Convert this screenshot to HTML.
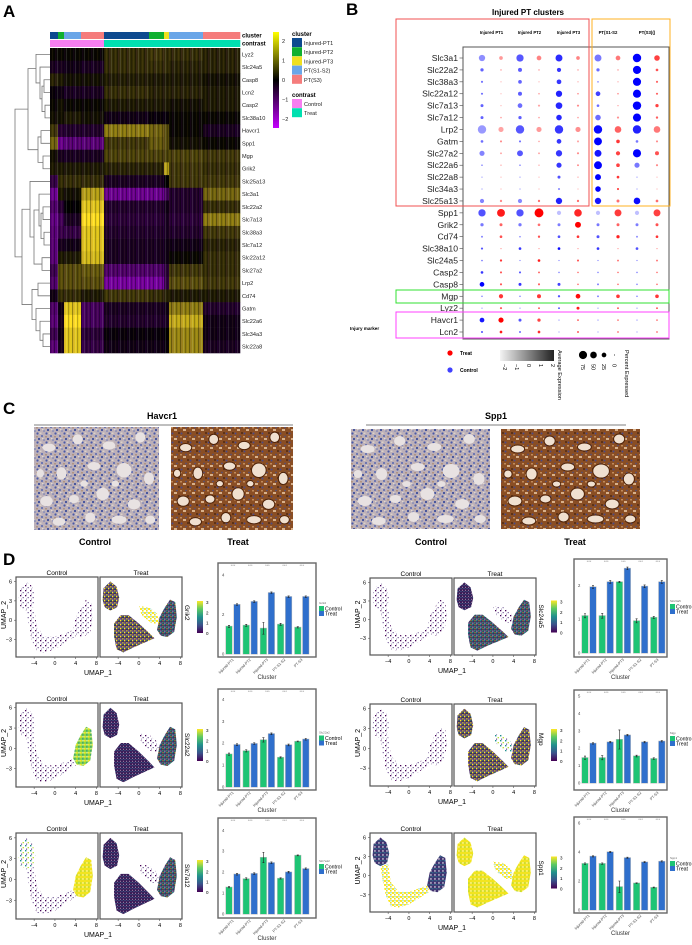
<!DOCTYPE html>
<html><head><meta charset="utf-8">
<style>
html,body{margin:0;padding:0;background:#fff;}
svg{display:block;font-family:"Liberation Sans",sans-serif;}
</style></head>
<body>
<svg id="fig" width="692" height="945" viewBox="0 0 692 945" xmlns="http://www.w3.org/2000/svg">
<defs>
  <linearGradient id="hmbar" x1="0" y1="0" x2="0" y2="1">
    <stop offset="0" stop-color="#ffff00"/><stop offset="0.5" stop-color="#000000"/><stop offset="1" stop-color="#c400ff"/>
  </linearGradient>
  <linearGradient id="vir" x1="0" y1="1" x2="0" y2="0">
    <stop offset="0" stop-color="#440154"/><stop offset="0.25" stop-color="#3b528b"/><stop offset="0.5" stop-color="#21908d"/><stop offset="0.75" stop-color="#5dc963"/><stop offset="1" stop-color="#fde725"/>
  </linearGradient>
  <linearGradient id="greyg" x1="0" y1="0" x2="1" y2="0">
    <stop offset="0" stop-color="#f4f4f4"/><stop offset="1" stop-color="#222"/>
  </linearGradient>
  <pattern id="stripes" width="9" height="10" patternUnits="userSpaceOnUse">
    <rect x="0" y="0" width="1" height="10" fill="#000" opacity="0.35"/>
    <rect x="1.5" y="0" width="0.7" height="10" fill="#7000b0" opacity="0.18"/>
    <rect x="3" y="0" width="1" height="10" fill="#fff" opacity="0.12"/>
    <rect x="5" y="0" width="1.2" height="10" fill="#000" opacity="0.25"/>
    <rect x="7" y="0" width="0.6" height="10" fill="#ffe040" opacity="0.1"/>
  </pattern>
  <pattern id="pSparse" width="5" height="5" patternUnits="userSpaceOnUse">
    <rect x="0" y="0" width="1.3" height="1.3" fill="#440154"/>
    <rect x="2.6" y="2" width="1.2" height="1.2" fill="#5a3d85" opacity="0.85"/>
    <rect x="1" y="3.6" width="1" height="1" fill="#9a8ab5"/>
  </pattern>
  <pattern id="pDensePurple" width="3" height="3" patternUnits="userSpaceOnUse">
    <rect width="3" height="3" fill="#3a1c58"/>
    <rect x="1.5" y="0" width="1" height="1" fill="#31688e"/>
    <rect x="0" y="1.8" width="1" height="1" fill="#fff" opacity="0.5"/>
  </pattern>
  <pattern id="pMixYellow" width="4" height="4" patternUnits="userSpaceOnUse">
    <rect width="4" height="4" fill="#3a1c58"/>
    <rect x="0" y="0" width="1.4" height="1.4" fill="#fde725"/>
    <rect x="2.2" y="2.2" width="1.4" height="1.4" fill="#e8e13a"/>
    <rect x="2.4" y="0.2" width="1" height="1" fill="#35b779"/>
    <rect x="0.4" y="2.6" width="1" height="1" fill="#fff"/>
  </pattern>
  <pattern id="pMixGreen" width="4" height="4" patternUnits="userSpaceOnUse">
    <rect width="4" height="4" fill="#36205a"/>
    <rect x="0" y="0" width="1.4" height="1.4" fill="#21908d"/>
    <rect x="2.2" y="2.2" width="1.3" height="1.3" fill="#35b779"/>
    <rect x="2.5" y="0.3" width="1" height="1" fill="#fde725"/>
    <rect x="0.4" y="2.6" width="1" height="1" fill="#fff"/>
  </pattern>
  <pattern id="pGreenYellow" width="4" height="4" patternUnits="userSpaceOnUse">
    <rect width="4" height="4" fill="#8fd744"/>
    <rect x="0" y="0" width="1.6" height="1.6" fill="#fde725"/>
    <rect x="2.2" y="2.2" width="1.3" height="1.3" fill="#21908d"/>
    <rect x="2.5" y="0.2" width="1" height="1" fill="#fff"/>
  </pattern>
  <pattern id="pYellow" width="4" height="4" patternUnits="userSpaceOnUse">
    <rect width="4" height="4" fill="#f2e41f"/>
    <rect x="2.4" y="2.4" width="1.1" height="1.1" fill="#fff"/>
    <rect x="0.4" y="2.6" width="0.9" height="0.9" fill="#5dc963"/>
  </pattern>
  <pattern id="pYellowSparse" width="4" height="4" patternUnits="userSpaceOnUse">
    <rect x="0" y="0" width="2" height="2" fill="#fde725"/>
    <rect x="2" y="2" width="1.6" height="1.6" fill="#f0e020"/>
    <rect x="2.5" y="0.3" width="1" height="1" fill="#35b779"/>
  </pattern>
  <pattern id="pBluePurple" width="4" height="4" patternUnits="userSpaceOnUse">
    <rect width="4" height="4" fill="#40306e"/>
    <rect x="0" y="0" width="1.4" height="1.4" fill="#31688e"/>
    <rect x="2.3" y="2.3" width="1.3" height="1.3" fill="#fff"/>
    <rect x="2.5" y="0.3" width="1" height="1" fill="#21908d"/>
  </pattern>
  <pattern id="pSparseMix" width="5" height="5" patternUnits="userSpaceOnUse">
    <rect x="0" y="0" width="1.4" height="1.4" fill="#21908d"/>
    <rect x="2.6" y="2" width="1.3" height="1.3" fill="#b5de2b"/>
    <rect x="1" y="3.6" width="1.1" height="1.1" fill="#5a3d85"/>
  </pattern>
  <pattern id="histoCtrl" width="9" height="9" patternUnits="userSpaceOnUse">
    <rect width="9" height="9" fill="#bcb0b8"/>
    <circle cx="1.5" cy="1.5" r="1.1" fill="#4a5aa8"/>
    <circle cx="6" cy="4" r="1" fill="#5565b0"/>
    <circle cx="3" cy="7" r="1.1" fill="#3d4d9a"/>
    <circle cx="8" cy="8" r="0.8" fill="#6a78b8"/>
    <rect x="3.5" y="0.5" width="2" height="1.5" fill="#ddd2c8"/>
    <rect x="0" y="4" width="2" height="1.5" fill="#b09482"/>
    <rect x="6" y="6" width="1.5" height="1.2" fill="#e0d8d0"/>
  </pattern>
  <pattern id="histoTreat" width="9" height="9" patternUnits="userSpaceOnUse">
    <rect width="9" height="9" fill="#8a4e24"/>
    <circle cx="1.5" cy="1.5" r="1" fill="#4a4a88"/>
    <circle cx="6" cy="4.5" r="0.9" fill="#55507a"/>
    <rect x="3" y="6" width="3" height="2" fill="#d8b08a"/>
    <rect x="7" y="0" width="2" height="2" fill="#5e3216"/>
    <rect x="0" y="4" width="2" height="1.5" fill="#c08a5a"/>
  </pattern>
</defs>

<text x="3" y="17" font-size="17" font-weight="bold">A</text>
<text x="346" y="15" font-size="17" font-weight="bold">B</text>
<text x="3" y="414" font-size="17" font-weight="bold">C</text>
<text x="3" y="565" font-size="17" font-weight="bold">D</text>

<g id="gA"></g>
<g id="gB"></g>
<g id="gC"></g>
<g id="gD"></g>
</svg>

<script>
// ================= DATA =================
const hmGenes = ["Lyz2","Slc24a5","Casp8","Lcn2","Casp2","Slc38a10","Havcr1","Spp1","Mgp","Grik2","Slc25a13","Slc3a1","Slc22a2","Slc7a13","Slc38a3","Slc7a12","Slc22a12","Slc27a2","Lrp2","Cd74","Gatm","Slc22a6","Slc34a3","Slc22a8"];
const hmBlockCluster = ["Injured-PT1","Injured-PT2","PT(S1-S2)","PT(S3)","Injured-PT1","Injured-PT2","Injured-PT3","PT(S1-S2)","PT(S3)"];
const hmBlockContrast = ["Control","Control","Control","Control","Treat","Treat","Treat","Treat","Treat"];
const hmBlockCells = [8,6,17,23,45,15,5,34,37];
const hmValues = [
 [0.1,0.1,0.1,0.1,0.5,0.6,0.5,0.5,0.4],
 [-0.3,-0.3,-0.2,-0.3,0.5,0.5,0.5,0.4,0.4],
 [0.4,0.3,0.2,0.2,0.35,0.3,0.3,0.3,0.2],
 [-0.1,-0.2,-0.3,-0.3,0.5,0.4,0.4,0.4,0.3],
 [0.1,0.2,0.1,0.1,0.3,0.3,0.3,0.2,0.3],
 [0.2,0.2,0.3,0.2,-0.2,-0.1,-0.1,0.1,0.1],
 [0.6,-0.5,-0.4,-0.4,1.2,1.0,0.8,0.1,-0.3],
 [1.0,-1.2,-1.0,-1.0,0.6,0.9,0.8,0.2,0.1],
 [0.2,-0.3,-0.3,-0.3,0.7,0.7,0.7,0.7,0.6],
 [0.3,0.3,0.3,0.3,0.4,0.4,1.5,0.6,0.5],
 [-0.6,0.5,0.5,0.5,-0.3,-0.3,0,0.6,0.6],
 [-1.2,0.3,0.2,1.5,-1.2,-1.2,-0.8,-0.4,1.0],
 [-0.9,-0.5,0,1.8,-0.4,-0.4,-0.2,-0.4,0.5],
 [-1.1,-0.8,-0.3,2.0,-0.5,-0.5,-0.3,-0.5,1.2],
 [-1.0,-0.7,-0.6,1.8,-0.4,-0.4,-0.3,-0.4,0.6],
 [-1.0,-0.3,-0.2,1.8,-0.3,-0.3,-0.2,-0.2,0.4],
 [-1.0,0.3,0.3,1.7,-0.3,-0.3,-0.2,0.1,0.5],
 [-0.7,0.8,0.8,0.9,-0.9,-0.9,-0.5,0.6,0.5],
 [-0.9,0.8,0.8,0.8,-1.3,-1.3,-0.6,0.8,0.6],
 [-0.2,0.5,0.5,0.3,0.6,0.5,0.4,0.3,0.3],
 [-0.9,-0.2,1.8,-0.8,-0.3,-0.3,-0.2,1.2,-0.4],
 [-1.0,-0.3,2.0,-0.8,-0.4,-0.4,-0.3,1.6,-0.2],
 [-0.7,-0.2,1.8,-0.5,-0.1,-0.1,0,1.3,-0.2],
 [-1.0,-0.3,1.8,-0.6,-0.2,-0.2,-0.1,1.3,-0.3]
];
const clusterNames = ["Injured-PT1","Injured-PT2","Injured-PT3","PT(S1-S2)","PT(S3)"];
const clusterColors = ["#0d4a8f","#10b030","#f0e020","#6aa6e8","#f57c7c"];
const contrastNames = ["Control","Treat"];
const contrastColors = ["#f77ef0","#00e0b0"];
const hmTicks = [2,1,0,-1,-2];

const dpGenes = ["Slc3a1","Slc22a2","Slc38a3","Slc22a12","Slc7a13","Slc7a12","Lrp2","Gatm","Slc27a2","Slc22a6","Slc22a8","Slc34a3","Slc25a13","Spp1","Grik2","Cd74","Slc38a10","Slc24a5","Casp2","Casp8","Mgp","Lyz2","Havcr1","Lcn2"];
const dpGroups = ["Injured PT1","Injured PT2","Injured PT3","PT(S1-S2","PT(S3)()"];
const dpConds = ["Control","Treat"];
const dpPct = [
 [45,15,60,25,55,15,55,25,80,35],
 [12,3,18,3,20,3,12,3,75,8],
 [5,2,15,2,25,2,3,2,75,5],
 [5,2,18,3,45,3,25,3,75,5],
 [10,2,25,5,50,5,8,2,80,12],
 [10,3,12,3,35,3,35,5,75,6],
 [80,30,80,30,80,30,80,50,80,50],
 [8,5,5,3,25,5,70,15,8,5],
 [30,4,40,4,45,5,55,20,75,18],
 [3,2,3,2,30,4,70,15,30,5],
 [2,2,2,2,10,2,40,8,2,2],
 [2,2,2,2,5,2,35,5,2,2],
 [20,6,20,6,45,6,45,10,50,8],
 [60,70,60,90,20,65,20,55,20,55],
 [12,10,12,8,10,40,10,10,10,10],
 [4,8,3,6,8,8,10,12,4,8],
 [5,2,8,2,8,2,8,2,8,2],
 [3,6,2,8,2,5,2,4,2,4],
 [8,5,5,4,3,3,3,3,3,3],
 [25,5,10,5,10,3,4,3,3,3],
 [3,20,3,18,6,25,4,15,3,15],
 [2,5,2,4,4,10,2,4,2,4],
 [25,30,10,12,2,4,2,3,2,3],
 [5,8,4,8,2,4,2,3,2,3]
];
const dpExpr = [
 [-0.6,-0.8,0.4,-0.4,1.2,-0.4,-0.2,-0.2,2,0.8],
 [0.2,-1,0.3,-1,1,-1,0,-1,2,0.5],
 [0,-1.5,0.2,-1.5,1,-1.2,-0.5,-1.2,2,0.3],
 [0,-1.5,0.3,-1,1.4,-0.6,0.8,-0.6,2,0.3],
 [0.2,-1.5,0,-1,1.3,-0.5,0,-1,2,0.8],
 [0.2,-1,0.3,-1,1.3,-1,0,-0.6,2,0.3],
 [-0.8,-1,0.4,-0.8,1,-0.6,1.8,0.2,1.4,-0.2],
 [0,-0.5,0,-1,1,-1,2,1,-0.2,-0.5],
 [-0.4,-1,0.4,-1,1,-0.5,1.6,0.8,2,0.5],
 [-0.5,-1,-0.5,-1,1,-0.5,2,0.8,-0.2,-0.5],
 [-1,-1.5,-1,-1.5,0.5,-1,2,1,-1,-1.5],
 [-1,-1.5,-1,-1.5,-0.5,-1.5,2,1,-1,-1.5],
 [-0.4,-0.5,-0.5,0,1.4,0,1.6,0,1.8,0],
 [0.5,1.5,0.5,2,-1.5,1.3,-1.5,0.9,-1.5,0.8],
 [-0.2,0.2,-0.2,0,-0.3,2,-0.2,0.2,-0.3,0.5],
 [-0.3,0.5,-0.5,0.5,0.5,1,0.5,1.4,-0.5,1],
 [0.5,-1,1,-1,1.8,-1,1,-1,0.5,-1],
 [0,1,-0.5,1.5,-0.5,0.5,-0.5,0,-0.5,0],
 [1,0.5,0.5,0.3,-0.5,0,-0.5,0,-0.5,0],
 [2,0.5,1,0.3,0.8,0,-0.2,0,-0.5,0],
 [-0.5,1,-0.5,1,0.5,1.8,-0.3,1,-0.5,1],
 [-1,0.5,-1,0.5,0.5,1.5,-1,0.5,-1,0.5],
 [1.6,2,0.5,0.8,-1,0,-1,0,-1,0],
 [0.5,1.5,0.2,1.2,-1,0.5,-1,0.3,-1,0.3]
];
const dpExprTicks = [-2,-1,0,1,2];
const dpPctTicks = [75,50,25,0];

const barClusters = ["Injured-PT1","Injured-PT2","Injured-PT3","PT-S1-S2","PT-S3"];
const grik2Ctrl = [1.4,1.45,1.3,1.5,1.35];
const grik2Treat = [2.5,2.65,3.1,2.9,2.9];
const grik2Err = [0.05,0.05,0.3,0.05,0.03];
const slc24a5Ctrl = [1.1,1.1,2.1,0.95,1.05];
const slc24a5Treat = [1.95,2.1,2.5,1.97,2.1];
const slc24a5Err = [0.06,0.07,0.02,0.06,0.03];
const slc22a2Ctrl = [1.5,1.65,2.15,1.35,2.08];
const slc22a2Treat = [1.93,1.98,2.43,1.92,2.18];
const slc22a2Err = [0.05,0.05,0.1,0.03,0.02];
const mgpCtrl = [1.45,1.45,2.5,1.55,1.4];
const mgpTreat = [2.28,2.35,2.75,2.35,2.4];
const mgpErr = [0.1,0.12,0.55,0.05,0.05];
const slc7a12Ctrl = [1.28,1.68,2.7,1.7,2.8];
const slc7a12Treat = [1.9,1.93,2.45,2.0,2.16];
const slc7a12Err = [0.03,0.05,0.25,0.03,0.02];
const spp1Ctrl = [3.2,3.2,1.6,1.85,1.55];
const spp1Treat = [3.7,4.0,3.6,3.3,3.35];
const spp1Err = [0.05,0.05,0.4,0.03,0.03];
const grik2Ticks = [0,2,4];
const slc24a5Ticks = [0,1,2];
const slc22a2Ticks = [0,1,2,3,4];
const mgpTicks = [0,1,2,3,4,5];
const slc7a12Ticks = [0,1,2,3,4];
const spp1Ticks = [0,2,4,6];
const umapXTicks = [-4,0,4,8];
const umapYTicks = [6,3,0,-3];
const cbTicks = [0,1,2,3];

// ================= HELPERS =================
const NS = "http://www.w3.org/2000/svg";
function mk(tag, a, p){const e=document.createElementNS(NS,tag);for(const k in a)e.setAttribute(k,a[k]);p.appendChild(e);return e;}
function tx(p,x,y,s,size,extra){const e=mk('text',Object.assign({x:x,y:y,'font-size':size},extra||{}),p);e.textContent=s;return e;}
const gA=document.getElementById('gA'),gB=document.getElementById('gB'),gC=document.getElementById('gC'),gD=document.getElementById('gD');

function hmColor(v){
  const t=Math.max(-1,Math.min(1,v/2));
  if(t>=0){const u=Math.pow(t,1.15);const c=Math.round(255*u);return `rgb(${c},${Math.round(c*0.88)},${Math.round(c*0.12)})`;}
  const u=Math.pow(-t,1.1);return `rgb(${Math.round(190*u)},0,${Math.round(255*u)})`;
}

// ================= PANEL A =================
(function(){
  const x0=50,x1=240,y0=48,y1=353;
  const totalCells=hmBlockCells.reduce((a,b)=>a+b,0);
  const xs=c=>x0+(x1-x0)*c/totalCells;
  const rowH=(y1-y0)/hmGenes.length;
  const ys=i=>y0+i*rowH;
  let cum=0;
  hmBlockCells.forEach((n,b)=>{
    const xa=xs(cum),xb=xs(cum+n);
    const cb=mk('rect',{x:xa,y:32,width:xb-xa+0.3,height:7,fill:clusterColors[clusterNames.indexOf(hmBlockCluster[b])]},gA);
    
    
    const ct=mk('rect',{x:xa,y:40,width:xb-xa+0.3,height:7,fill:contrastColors[contrastNames.indexOf(hmBlockContrast[b])]},gA);
    
    
    hmGenes.forEach((g,i)=>{
      const r=mk('rect',{x:xa,y:ys(i),width:xb-xa+0.3,height:rowH+0.3,fill:hmColor(hmValues[i][b])},gA);
      
      
    });
    cum+=n;
  });
  const st=mk('rect',{x:x0,y:y0,width:x1-x0,height:y1-y0,fill:'url(#stripes)'},gA);
  
  
  hmGenes.forEach((g,i)=>{
    const t=tx(gA,242,ys(i)+rowH/2+2,g,5.6,{fill:'#222'});
    
    
  });
  tx(gA,242,37.5,'cluster',6,{'font-weight':'bold'});
  tx(gA,242,45.5,'contrast',6,{'font-weight':'bold'});
  const tree=[35,[22,[14,0,[10,1,[8,[6,2,3],[5,4,5]]]],[12,[9,6,7],[7,8,9]]],
    [28,[20,10,[16,[11,11,[9,[7,12,13],[6,14,15]]],[8,16,17]]],[18,[12,18,19],[14,20,[10,21,[7,22,23]]]]]];
  function draw(n){
    if(typeof n==='number') return {y:ys(n)+rowH/2,x:x0};
    const a=draw(n[1]),b=draw(n[2]);const xh=x0-n[0];
    const p=mk('path',{d:`M${a.x},${a.y}H${xh}V${b.y}H${b.x}`,fill:'none',stroke:'#777','stroke-width':0.8},gA);
    
    
    return {y:(a.y+b.y)/2,x:xh};
  }
  draw(tree);
  const cb=mk('rect',{x:273,y:32,width:6,height:96,fill:'url(#hmbar)'},gA);
  
  
  hmTicks.forEach(v=>{
    const t=tx(gA,282,80-v*19.5+2,String(v).replace('-','\u2212'),5.5,{fill:'#222'});
    
    
  });
  tx(gA,292,36,'cluster',6,{'font-weight':'bold'});
  clusterNames.forEach((n,i)=>{
    const r=mk('rect',{x:292,y:38+i*9.2,width:10,height:9,fill:clusterColors[i]},gA);
    
    
    tx(gA,304,45+i*9.2,n,5.6,{fill:'#222'});
  });
  tx(gA,292,97,'contrast',6,{'font-weight':'bold'});
  contrastNames.forEach((n,i)=>{
    const r=mk('rect',{x:292,y:99+i*9.2,width:10,height:9,fill:contrastColors[i]},gA);
    
    
    tx(gA,304,106+i*9.2,n,5.6,{fill:'#222'});
  });
})();

// ================= PANEL B =================
(function(){
  const colX=[482,501,520,539,559,578,598,618,637,657];
  const y0=58,dy=(332-58)/23;
  const yRow=i=>y0+i*dy;
  const rad=p=>4.2*Math.sqrt(p/80);
  function dotColor(e,cond){
    const t=Math.max(0,Math.min(1,(e+2)/4));
    const lo=218-Math.round(218*t);
    return cond===0?`rgb(${lo},${lo},255)`:`rgb(255,${lo},${lo})`;
  }
  tx(gB,528,15,'Injured PT clusters',8,{'font-weight':'bold','text-anchor':'middle'});
  dpGroups.forEach((g,i)=>{
    const t=tx(gB,(colX[2*i]+colX[2*i+1])/2,34,g,4.3,{'font-weight':'bold','text-anchor':'middle'});
    
    
  });
  dpGenes.forEach((g,i)=>{
    const t=tx(gB,458,yRow(i)+3,g,8.6,{'text-anchor':'end',fill:'#222'});
    
    
    mk('line',{x1:459.5,x2:462.5,y1:yRow(i),y2:yRow(i),stroke:'#444','stroke-width':0.6},gB);
    colX.forEach((x,j)=>{
      const c=mk('circle',{cx:x,cy:yRow(i),r:rad(dpPct[i][j]),fill:dotColor(dpExpr[i][j],j%2)},gB);
      
      
    });
  });
  const boxes=[[463,47,669,339,'#555','black-box'],[396,19,589,206,'#f05050','red-box'],[592,19,670,206,'#ffb020','orange-box'],[396,290,669,303,'#30e030','green-box-mgp'],[396,312,669,338,'#ff40ff','magenta-box-injury']];
  boxes.forEach(b=>{
    const r=mk('rect',{x:b[0],y:b[1],width:b[2]-b[0],height:b[3]-b[1],fill:'none',stroke:b[4],'stroke-width':1},gB);
    
    
  });
  tx(gB,350,330,'Injury marker',4.6,{'font-weight':'bold'});
  const lt=mk('circle',{cx:450,cy:353,r:2.6,fill:'#ff0000'},gB);
  
  
  tx(gB,460,355,'Treat',5,{'font-weight':'bold'});
  const lc=mk('circle',{cx:450,cy:370,r:2.6,fill:'#4040ff'},gB);
  
  
  tx(gB,460,372,'Control',5,{'font-weight':'bold'});
  const gr=mk('rect',{x:500,y:350,width:54,height:11,fill:'url(#greyg)'},gB);
  
  
  dpExprTicks.forEach((v,i)=>{
    const x=503+i*12;
    const t=tx(gB,0,0,String(v).replace('-','\u2212'),5.5,{transform:`translate(${x},364) rotate(90)`});
    
    
  });
  tx(gB,0,0,'Average Expression',5.6,{transform:'translate(558,350) rotate(90)'});
  dpPctTicks.forEach((v,i)=>{
    const x=583+i*10.5;
    const c=mk('circle',{cx:x,cy:355,r:Math.max(0.5,rad(v)),fill:'#000'},gB);
    
    
    tx(gB,0,0,String(v),5.5,{transform:`translate(${x-2},364) rotate(90)`});
  });
  tx(gB,0,0,'Percent Expressed',5.6,{transform:'translate(625,350) rotate(90)'});
})();

// ================= PANEL C =================
(function(){
  const lum=[[0.12,0.2,0.05,0.04],[0.35,0.12,0.04,0.05],[0.6,0.18,0.05,0.04],[0.85,0.1,0.04,0.05],
    [0.22,0.45,0.04,0.06],[0.48,0.38,0.05,0.04],[0.72,0.42,0.06,0.07],[0.92,0.5,0.04,0.06],
    [0.1,0.72,0.05,0.05],[0.32,0.7,0.04,0.04],[0.55,0.65,0.05,0.06],[0.8,0.75,0.05,0.05],
    [0.2,0.92,0.05,0.04],[0.45,0.88,0.04,0.05],[0.68,0.9,0.06,0.04],[0.93,0.9,0.04,0.04],
    [0.4,0.55,0.03,0.03],[0.65,0.55,0.03,0.03],[0.05,0.45,0.03,0.04]];
  function histo(x,y,w,h,treat,name){
    const r=mk('rect',{x:x,y:y,width:w,height:h,fill:treat?'url(#histoTreat)':'url(#histoCtrl)'},gC);
    
    
    lum.forEach(l=>{
      mk('ellipse',{cx:x+l[0]*w,cy:y+l[1]*h,rx:l[2]*w,ry:l[3]*h,fill:treat?'#f0e0d0':'#e8e2e2',stroke:treat?'#4e2208':'none','stroke-width':1},gC);
    });
  }
  tx(gC,162,419,'Havcr1',9,{'font-weight':'bold','text-anchor':'middle'});
  mk('line',{x1:34,x2:293,y1:425,y2:425,stroke:'#555','stroke-width':0.8},gC);
  histo(34,427,125,103,false,'havcr1-control-image');
  histo(171,427,122,103,true,'havcr1-treat-image');
  tx(gC,95,545,'Control',9,{'font-weight':'bold','text-anchor':'middle'});
  tx(gC,238,545,'Treat',9,{'font-weight':'bold','text-anchor':'middle'});
  tx(gC,496,419,'Spp1',9,{'font-weight':'bold','text-anchor':'middle'});
  mk('line',{x1:366,x2:626,y1:425,y2:425,stroke:'#555','stroke-width':0.8},gC);
  histo(351,429,139,100,false,'spp1-control-image');
  histo(501,429,139,100,true,'spp1-treat-image');
  tx(gC,431,545,'Control',9,{'font-weight':'bold','text-anchor':'middle'});
  tx(gC,575,545,'Treat',9,{'font-weight':'bold','text-anchor':'middle'});
})();

// ================= PANEL D =================
const blobUL=[[-7,3.2],[-6.8,5],[-5.5,6],[-4.3,5.2],[-3.8,3.5],[-4.2,2],[-5.5,1.5],[-6.6,2]];
const blobBand=[[-5.5,1.5],[-4,1.8],[-3.5,-1],[-2,-2.5],[0,-2.5],[2,-2],[3.5,-1.5],[4,-2.5],[2,-3.5],[0,-4.5],[-2,-5],[-3.5,-4.8],[-4.5,-3],[-5,-1]];
const blobTri=[[-4.8,-0.5],[-3.5,0.8],[-2,0.8],[0,-0.5],[2,-2],[3,-2.8],[1,-3.5],[-1,-4.2],[-3,-5],[-4.3,-4.5],[-4.8,-2.5]];
const blobRight=[[3.5,-1.5],[4,0.5],[5,2],[6,3.2],[7,2.8],[7.3,0.5],[6.8,-1.8],[5.5,-2.6],[4.2,-2.4]];
const blobMid=[[0,2.2],[2,2],[3.5,1],[4,-0.5],[2.5,-0.5],[0.5,0.8]];

function umapPanel(px0,px1,py0,py1,title,fills,showY){
  const sx=v=>px0+(v+7.5)/15.8*(px1-px0);
  const sy=v=>py0+(6.7-v)/12.4*(py1-py0);
  const fr=mk('rect',{x:px0,y:py0,width:px1-px0,height:py1-py0,fill:'#fff',stroke:'#555','stroke-width':1.2},gD);
  
  
  fills.forEach(f=>{
    const pts=f[0].map(p=>sx(p[0])+','+sy(p[1])).join(' ');
    const pg=mk('polygon',{points:pts,fill:`url(#${f[1]})`,stroke:'none'},gD);
    
    
  });
  tx(gD,(px0+px1)/2,py0-2,title,6.5,{'text-anchor':'middle'});
  umapXTicks.forEach(v=>{
    mk('line',{x1:sx(v),x2:sx(v),y1:py1,y2:py1+2,stroke:'#555','stroke-width':0.6},gD);
    tx(gD,sx(v),py1+8,String(v).replace('-','\u2212'),5.5,{'text-anchor':'middle'});
  });
  if(showY){
    umapYTicks.forEach(v=>{
      mk('line',{x1:px0-2,x2:px0,y1:sy(v),y2:sy(v),stroke:'#555','stroke-width':0.6},gD);
      tx(gD,px0-4,sy(v)+2,String(v).replace('-','\u2212'),5.5,{'text-anchor':'end'});
    });
  }
}
function umapRow(x0,py0,py1,gene,ctrlFills,treatFills){
  umapPanel(x0,x0+82,py0,py1,'Control',ctrlFills,true);
  umapPanel(x0+84,x0+166,py0,py1,'Treat',treatFills,false);
  tx(gD,x0+82,py1+18,'UMAP_1',7,{'text-anchor':'middle'});
  tx(gD,0,0,'UMAP_2',7,{transform:`translate(${x0-10},${(py0+py1)/2+12}) rotate(-90)`});
  const g=tx(gD,0,0,gene,6.5,{transform:`translate(${x0+169},${(py0+py1)/2-12}) rotate(90)`});
  
  
  const cy0=(py0+py1)/2-16;
  const cb=mk('rect',{x:x0+181,y:cy0,width:6,height:32,fill:'url(#vir)'},gD);
  
  
  cbTicks.forEach(v=>tx(gD,x0+190,cy0+32-v*10.3+2,String(v),4.5));
}
function barChart(fx0,fx1,fy0,fy1,zeroY,topVal,ticks,ctrl,treat,err,gene){
  const fr=mk('rect',{x:fx0,y:fy0,width:fx1-fx0,height:fy1-fy0,fill:'#fff',stroke:'#666','stroke-width':1.4},gD);
  
  
  const ppu=(zeroY-(fy0+6))/topVal;
  const ys=v=>zeroY-v*ppu;
  ticks.forEach(v=>tx(gD,fx0+4,ys(v)+1.5,String(v),4.2,{fill:'#444'}));
  const gx=i=>fx0+15+i*17.2;
  barClusters.forEach((c,i)=>{
    const cx=gx(i);
    [[ctrl[i],-7,'#1ec474','bar-control'],[treat[i],1,'#2f6fcc','bar-treat']].forEach((b,k)=>{
      mk('rect',{x:cx+b[1]-0.5,y:ys(b[0])-0.5,width:7,height:zeroY-ys(b[0])+1,fill:'#bbb'},gD);
      const r=mk('rect',{x:cx+b[1],y:ys(b[0]),width:6,height:zeroY-ys(b[0]),fill:b[2]},gD);
      
      
      const e=k===0?err[i]:0.04;
      mk('path',{d:`M${cx+b[1]+3},${ys(b[0]+e)}V${ys(b[0]-e)}M${cx+b[1]+2},${ys(b[0]+e)}h2M${cx+b[1]+2},${ys(b[0]-e)}h2`,stroke:'#222','stroke-width':0.6,fill:'none'},gD);
    });
    tx(gD,cx,fy0+4,'***',4,{'text-anchor':'middle',fill:'#888'});
    tx(gD,0,0,c,3.8,{'text-anchor':'end',fill:'#444',transform:`translate(${cx+1},${fy1+3}) rotate(-45)`});
  });
  tx(gD,(fx0+fx1)/2,fy1+22,'Cluster',6,{'text-anchor':'middle',fill:'#333'});
  const ly=(fy0+fy1)/2-6;
  tx(gD,fx1+3,ly,gene,3,{fill:'#666'});
  const s1=mk('rect',{x:fx1+3,y:ly+2,width:5,height:5,fill:'#1ec474'},gD);
  
  
  const s2=mk('rect',{x:fx1+3,y:ly+7,width:5,height:5,fill:'#2f6fcc'},gD);
  
  
  tx(gD,fx1+9,ly+6.5,'Control',5.2);
  tx(gD,fx1+9,ly+11.5,'Treat',5.2);
}

umapRow(16,577,657,'Grik2',[[blobUL,'pSparse'],[blobBand,'pSparse'],[blobRight,'pSparse']],
  [[blobUL,'pMixYellow'],[blobTri,'pMixYellow'],[blobRight,'pMixGreen'],[blobMid,'pYellowSparse']]);
barChart(218,316,563,657,654,4.3,grik2Ticks,grik2Ctrl,grik2Treat,grik2Err,'Grik2');
umapRow(370,578,655,'Slc24a5',[[blobUL,'pSparse'],[blobBand,'pSparse'],[blobRight,'pSparse']],
  [[blobUL,'pDensePurple'],[blobTri,'pMixGreen'],[blobRight,'pMixGreen'],[blobMid,'pSparse']]);
barChart(574,667,559,657,653,2.6,slc24a5Ticks,slc24a5Ctrl,slc24a5Treat,slc24a5Err,'Slc24a5');
umapRow(16,703,787,'Slc22a2',[[blobUL,'pSparse'],[blobBand,'pSparse'],[blobRight,'pGreenYellow']],
  [[blobUL,'pDensePurple'],[blobTri,'pDensePurple'],[blobRight,'pMixGreen'],[blobMid,'pSparse']]);
barChart(218,316,689,790,787,4.2,slc22a2Ticks,slc22a2Ctrl,slc22a2Treat,slc22a2Err,'Slc22a2');
umapRow(370,704,786,'Mgp',[[blobUL,'pSparse'],[blobBand,'pSparse'],[blobRight,'pSparse']],
  [[blobUL,'pMixYellow'],[blobTri,'pMixYellow'],[blobRight,'pMixYellow'],[blobMid,'pSparseMix']]);
barChart(574,667,690,790,783,5.0,mgpTicks,mgpCtrl,mgpTreat,mgpErr,'Mgp');
umapRow(16,833,919,'Slc7a12',[[blobUL,'pSparseMix'],[blobBand,'pSparse'],[blobRight,'pYellow']],
  [[blobUL,'pDensePurple'],[blobTri,'pDensePurple'],[blobRight,'pMixGreen'],[blobMid,'pSparse']]);
barChart(218,316,818,918,914,4.3,slc7a12Ticks,slc7a12Ctrl,slc7a12Treat,slc7a12Err,'Slc7a12');
umapRow(370,833,912,'Spp1',[[blobUL,'pBluePurple'],[blobBand,'pYellowSparse'],[blobRight,'pBluePurple']],
  [[blobUL,'pYellow'],[blobTri,'pYellow'],[blobRight,'pYellow'],[blobMid,'pYellowSparse']]);
barChart(574,667,817,913,910,6.0,spp1Ticks,spp1Ctrl,spp1Treat,spp1Err,'Spp1');
</script>
</body></html>
